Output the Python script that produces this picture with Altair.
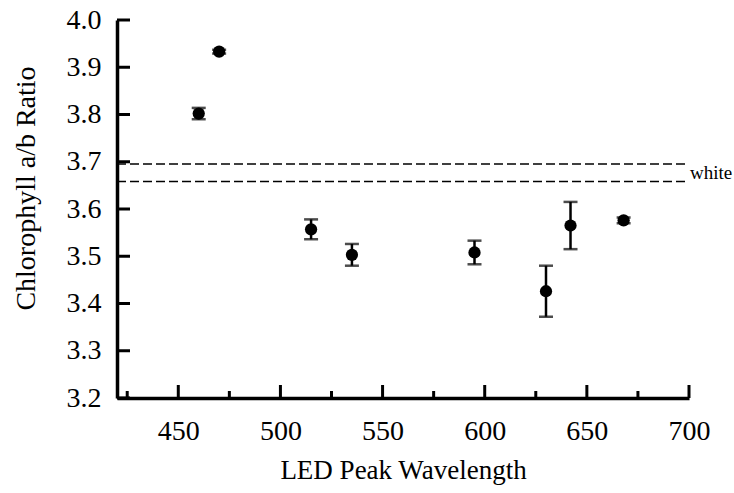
import altair as alt
import pandas as pd

# ---- data ----
wavelength = [460, 470, 515, 535, 595, 630, 642, 668]
ratio = [3.802, 3.933, 3.557, 3.503, 3.508, 3.426, 3.565, 3.576]
err = [0.012, 0.004, 0.021, 0.023, 0.025, 0.054, 0.050, 0.006]

white_levels = [3.695, 3.658]
white_label = "white"

x_major = [450, 500, 550, 600, 650, 700]
x_minor = [425, 475, 525, 575, 625, 675]
y_major = [3.2, 3.3, 3.4, 3.5, 3.6, 3.7, 3.8, 3.9, 4.0]

x_title = "LED Peak Wavelength"
y_title = "Chlorophyll a/b Ratio"

# ---- layout ----
W, H = 572, 378
FONT = "Liberation Serif"

df = pd.DataFrame({"wl": wavelength, "r": ratio, "e": err})
df["lo"] = df["r"] - df["e"]
df["hi"] = df["r"] + df["e"]

xs = alt.Scale(domain=[420, 700], nice=False, zero=False)
ys = alt.Scale(domain=[3.2, 4.0], nice=False, zero=False)

xaxis = alt.Axis(values=x_major, format="d", labelPadding=19, titlePadding=12, titleFontSize=27,
                 labelFlush=False, labelOverlap=False)
yaxis = alt.Axis(values=y_major, format=".1f", labelPadding=16, titlePadding=26, titleFontSize=28,
                 labelFlush=False, labelOverlap=False, titleY=168)


def X(field):
    return alt.X(field, scale=xs, axis=xaxis, title=x_title)


def Y(field):
    return alt.Y(field, scale=ys, axis=yaxis, title=y_title)


base = alt.Chart(df)

points = base.mark_circle(size=150, color="black", opacity=1).encode(x=X("wl:Q"), y=Y("r:Q"))

bars = base.mark_rule(color="black", strokeWidth=2.5).encode(x=X("wl:Q"), y=Y("lo:Q"), y2="hi:Q")
cap_lo = base.mark_tick(color="black", orient="horizontal", size=14, thickness=2.5).encode(
    x=X("wl:Q"), y=Y("lo:Q"))
cap_hi = base.mark_tick(color="black", orient="horizontal", size=14, thickness=2.5).encode(
    x=X("wl:Q"), y=Y("hi:Q"))

wdf = pd.DataFrame({"y": white_levels})
white_lines = alt.Chart(wdf).mark_rule(color="black", strokeWidth=1.5, strokeDash=[9, 4]).encode(
    y=Y("y:Q"), x=alt.value(0), x2=alt.value(W))
tdf = pd.DataFrame({"x": [700], "y": [sum(white_levels) / 2], "t": [white_label]})
white_text = alt.Chart(tdf).mark_text(font=FONT, fontSize=19, align="left", baseline="middle",
                                      dx=1, color="black").encode(
    x=X("x:Q"), y=Y("y:Q"), text="t:N")

xmaj_df = pd.DataFrame({"v": x_major})
xmin_df = pd.DataFrame({"v": x_minor})
ymaj_df = pd.DataFrame({"v": y_major})

xmaj_ticks = alt.Chart(xmaj_df).mark_rule(color="black", strokeWidth=3).encode(
    x=X("v:Q"), y=alt.value(H), y2=alt.value(H - 13))
xmin_ticks = alt.Chart(xmin_df).mark_rule(color="black", strokeWidth=3).encode(
    x=X("v:Q"), y=alt.value(H), y2=alt.value(H - 7))
ymaj_ticks = alt.Chart(ymaj_df).mark_rule(color="black", strokeWidth=3).encode(
    y=Y("v:Q"), x=alt.value(0), x2=alt.value(13))

chart = alt.layer(
    points, white_lines, bars, cap_lo, cap_hi, white_text, xmaj_ticks, xmin_ticks, ymaj_ticks
).properties(
    width=W, height=H,
    autosize=alt.AutoSizeParams(type="none"),
    padding={"left": 117, "top": 20, "right": 45, "bottom": 95},
).configure_view(
    stroke="transparent", strokeWidth=0
).configure_axis(
    ticks=False, grid=False, domainWidth=3.5, domainColor="black",
    labelFont=FONT, labelFontSize=28, labelColor="black",
    titleFont=FONT, titleFontWeight="normal", titleColor="black",
)

chart.save("out.html", embed_options={"renderer": "svg", "actions": False})
